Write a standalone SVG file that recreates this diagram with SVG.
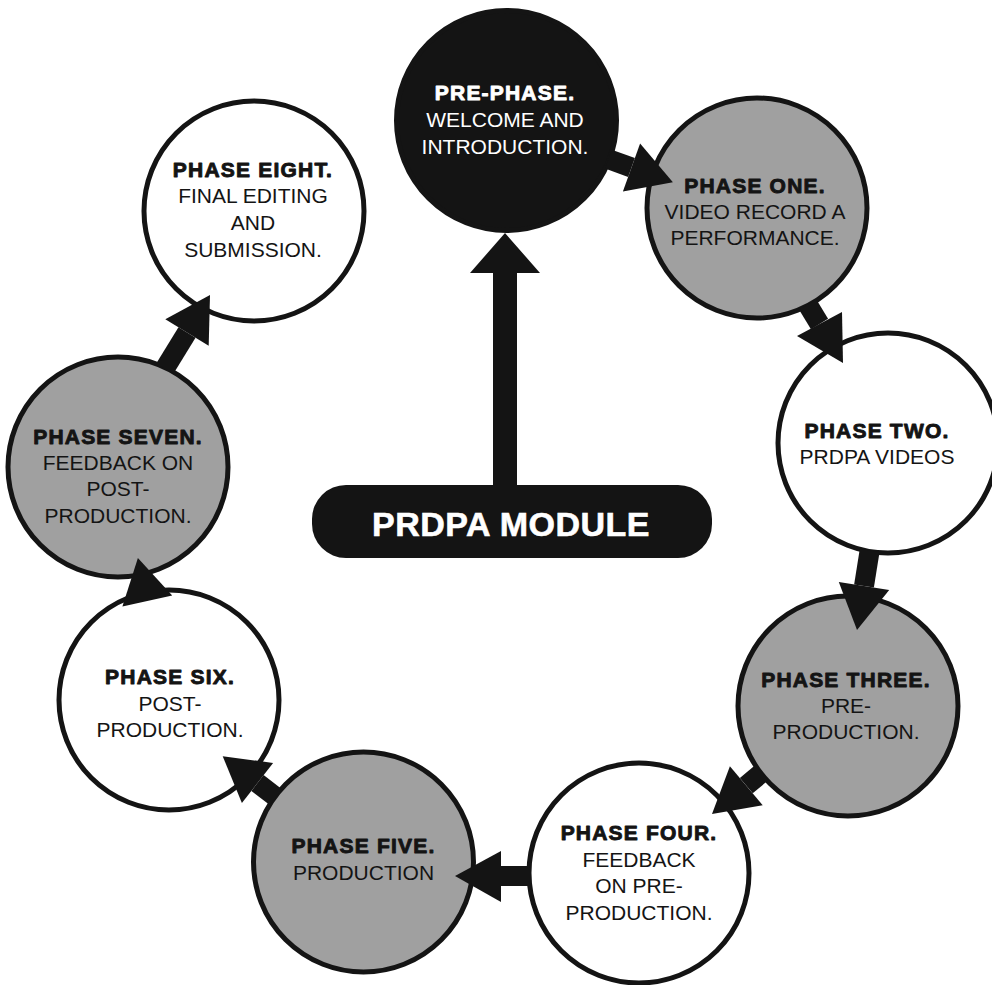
<svg xmlns="http://www.w3.org/2000/svg" width="992" height="985" viewBox="0 0 992 985">
<style>
.c{stroke:#141414;stroke-width:5}
.w{fill:#ffffff}
.g{fill:#a0a0a0}
.k{fill:#141414}
.t{font-family:"Liberation Sans",Arial,sans-serif;font-size:21px;text-anchor:middle;fill:#141414}
.b{font-weight:bold;letter-spacing:1.2px;stroke:#141414;stroke-width:0.9;stroke-linejoin:round}
.wt{fill:#ffffff}
.wb{fill:#ffffff;stroke:#ffffff}
.sh{stroke:#141414;stroke-width:20;fill:none}
.hd{fill:#141414}
</style>
<rect width="992" height="985" fill="#ffffff"/>

<g id="node-pre">
<circle class="c k" cx="506.5" cy="120.5" r="110"/>
<text class="t b wb" x="505" y="100">PRE-PHASE.</text>
<text class="t wt" x="505" y="127">WELCOME AND</text>
<text class="t wt" x="505" y="154">INTRODUCTION.</text>
</g>
<g id="node-one">
<circle class="c g" cx="757" cy="208" r="110"/>
<text class="t b" x="755" y="193">PHASE ONE.</text>
<text class="t" x="755" y="219">VIDEO RECORD A</text>
<text class="t" x="755" y="245">PERFORMANCE.</text>
</g>
<g id="node-two">
<circle class="c w" cx="888" cy="443" r="110"/>
<text class="t b" x="877" y="438">PHASE TWO.</text>
<text class="t" x="877" y="464">PRDPA VIDEOS</text>
</g>
<g id="node-three">
<circle class="c g" cx="848" cy="706" r="110"/>
<text class="t b" x="846" y="687">PHASE THREE.</text>
<text class="t" x="846" y="713">PRE-</text>
<text class="t" x="846" y="739">PRODUCTION.</text>
</g>
<g id="node-four">
<circle class="c w" cx="639" cy="873" r="110"/>
<text class="t b" x="639" y="840">PHASE FOUR.</text>
<text class="t" x="639" y="867">FEEDBACK</text>
<text class="t" x="639" y="893">ON PRE-</text>
<text class="t" x="639" y="920">PRODUCTION.</text>
</g>
<g id="node-five">
<circle class="c g" cx="363.5" cy="862" r="110"/>
<text class="t b" x="363.5" y="853">PHASE FIVE.</text>
<text class="t" x="363.5" y="880">PRODUCTION</text>
</g>
<g id="node-six">
<circle class="c w" cx="169" cy="700" r="110"/>
<text class="t b" x="170" y="684">PHASE SIX.</text>
<text class="t" x="170" y="711">POST-</text>
<text class="t" x="170" y="737">PRODUCTION.</text>
</g>
<g id="node-seven">
<circle class="c g" cx="118" cy="467" r="110"/>
<text class="t b" x="118" y="444">PHASE SEVEN.</text>
<text class="t" x="118" y="470">FEEDBACK ON</text>
<text class="t" x="118" y="496">POST-</text>
<text class="t" x="118" y="523">PRODUCTION.</text>
</g>
<g id="node-eight">
<circle class="c w" cx="254" cy="211" r="110"/>
<text class="t b" x="253" y="177">PHASE EIGHT.</text>
<text class="t" x="253" y="203">FINAL EDITING</text>
<text class="t" x="253" y="230">AND</text>
<text class="t" x="253" y="257">SUBMISSION.</text>
</g>

<g id="node-module">
<rect x="312" y="485" width="400" height="73" rx="34" class="k"/>
<text x="511" y="536" style="font-family:'Liberation Sans',Arial,sans-serif;font-size:34px;font-weight:bold;letter-spacing:0.5px;fill:#ffffff;stroke:#ffffff;stroke-width:0.6" text-anchor="middle">PRDPA MODULE</text>
</g>

<g id="connectors">
<polygon class="hd" points="493,487 493,273 470,273 505,233 540,273 517,273 517,487"/>
<line class="sh" x1="608.4" y1="159.2" x2="631.5" y2="167.5"/>
<polygon class="hd" points="640.1,143.5 672.9,182.3 622.9,191.5"/>
<line class="sh" x1="807.7" y1="304.5" x2="819.5" y2="324"/>
<polygon class="hd" points="842,312 843,363 797,336"/>
<line class="sh" x1="869.7" y1="550.4" x2="864" y2="586"/>
<polygon class="hd" points="838.8,582 857,630 889.2,590"/>
<line class="sh" x1="761.8" y1="772.7" x2="746.3" y2="785.7"/>
<polygon class="hd" points="729.9,766.2 712,814 762.7,805.2"/>
<line class="sh" x1="530" y1="876" x2="500" y2="876"/>
<polygon class="hd" points="501,851 455,876 501,902"/>
<line class="sh" x1="275.9" y1="797.2" x2="257.5" y2="783"/>
<polygon class="hd" points="273.1,762.9 222.7,756.2 241.9,803.1"/>
<polygon class="hd" points="172.2,595.4 137.9,557.9 122.4,606.4"/>
<line class="sh" x1="164.9" y1="368.5" x2="187" y2="332.5"/>
<polygon class="hd" points="208.7,345.8 210,295 165.3,319.2"/>
</g>
</svg>
